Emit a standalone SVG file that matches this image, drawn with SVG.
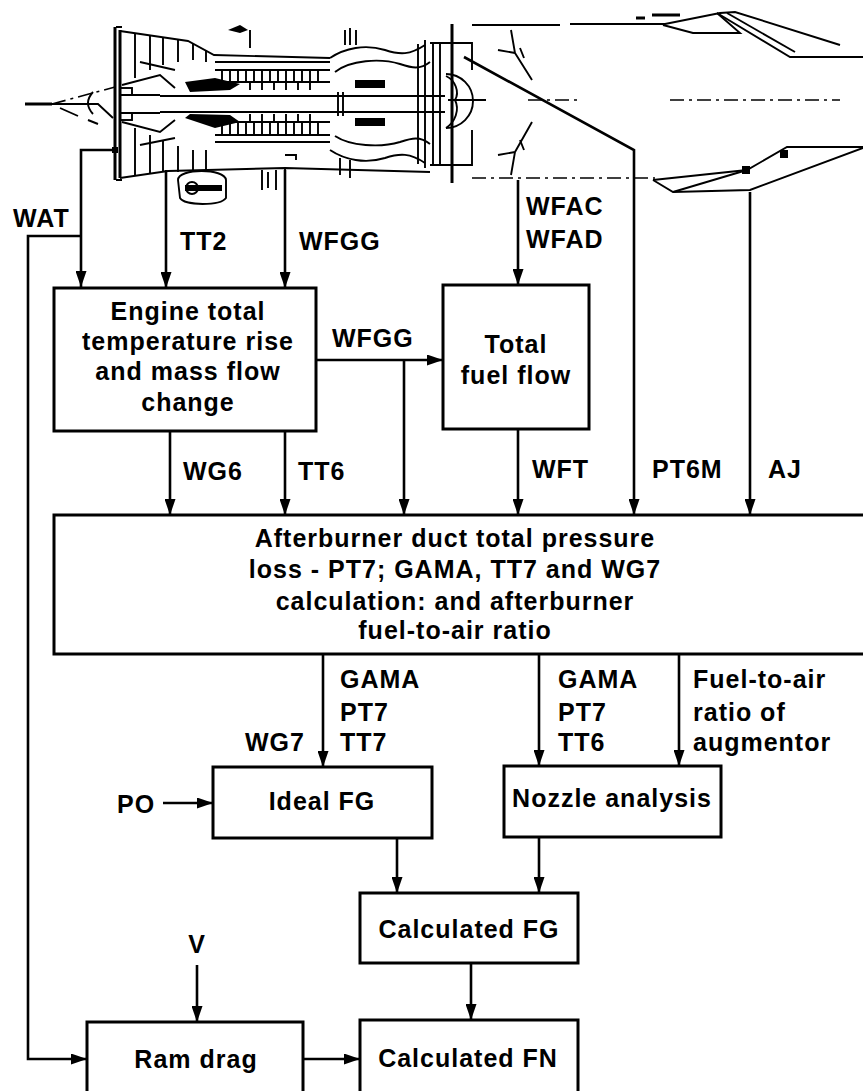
<svg xmlns="http://www.w3.org/2000/svg" width="863" height="1091" viewBox="0 0 863 1091">
<style>
.box{fill:#fff;stroke:#000;stroke-width:3}
.c{fill:none;stroke:#000;stroke-width:2.6}
.t{font-family:"Liberation Sans",Arial,sans-serif;font-weight:bold;font-size:25px;letter-spacing:1px;fill:#000}
.m{text-anchor:middle}
.e{fill:none;stroke:#000;stroke-width:1.9}
.ek{fill:none;stroke:#000;stroke-width:3}
.ed{fill:none;stroke:#000;stroke-width:1.6;stroke-dasharray:14 5 3 5}
.ef{fill:#000;stroke:none}
</style>
<defs>
<marker id="ah" viewBox="0 0 16 11" refX="16" refY="5.5" markerWidth="16" markerHeight="11" markerUnits="userSpaceOnUse" orient="auto">
<path d="M0,0 L16,5.5 L0,11 z" fill="#000"/>
</marker>
</defs>
<rect width="863" height="1091" fill="#fff"/>

<g id="engine">
<!-- probe / spike -->
<path class="ek" d="M25,104 H52" stroke-width="4"/>
<path class="e" d="M52,104 H98 L113,118"/>
<path class="ed" d="M52,104 L115,87"/>
<path class="e" d="M60,108 L78,116 M88,120 L98,124"/>
<path class="e" d="M93,92 Q83,103 93,114" stroke-width="2.4"/>
<!-- front frame -->
<path class="ek" d="M115,27 V180 M120,30 V178"/>
<path class="e" d="M116,27 H122 M116,180 H122"/>
<path class="ef" d="M112,147 H118 V153 H112 z"/>
<!-- fan casing -->
<path class="e" d="M120,31 L188,41 L214,55 L330,58"/>
<path class="e" d="M120,178 L168,171 L285,168 L430,172"/>
<!-- fan stages -->
<path class="e" d="M135,34 V78 M150,36 V70 M163,38 V65 M178,40 V62 M193,44 V60 M206,50 V62"/>
<path class="e" d="M135,128 V176 M150,135 V173 M163,140 V172 M178,146 V172 M193,150 V170 M206,150 V170"/>
<path class="e" d="M122,85 L160,75 L175,88 M122,122 L160,132 L175,120"/>
<path class="e" d="M140,62 L175,70 M140,145 L175,138"/>
<!-- inlet hub -->
<path class="e" d="M120,95 L160,95 M120,113 L160,113"/>
<rect class="e" x="120" y="88" width="12" height="7"/>
<rect class="e" x="120" y="113" width="12" height="7"/>
<!-- compressor -->
<path class="e" d="M215,62 H330 M215,70 H330 M215,82 H330 M215,122 H330 M215,135 H330 M215,142 H330"/>
<path class="e" d="M222,70 V82 M230,70 V82 M238,70 V82 M246,70 V82 M254,70 V82 M262,70 V82 M270,70 V82 M278,70 V82 M286,70 V82 M294,70 V82 M302,70 V82 M310,70 V82 M318,70 V82"/>
<path class="e" d="M222,122 V135 M230,122 V135 M238,122 V135 M246,122 V135 M254,122 V135 M262,122 V135 M270,122 V135 M278,122 V135 M286,122 V135 M294,122 V135 M302,122 V135 M310,122 V135 M318,122 V135"/>
<path class="e" d="M250,82 V90 M262,82 V90 M274,82 V90 M286,82 V90 M298,82 V90 M310,82 V90 M250,114 V122 M262,114 V122 M274,114 V122 M286,114 V122 M298,114 V122 M310,114 V122"/>
<path class="ef" d="M185,82 L215,78 L240,84 L230,90 L190,92 z M185,118 L215,128 L240,122 L230,115 L190,114 z"/>
<!-- shaft -->
<path class="e" d="M160,96 H445 M160,112 H445"/>
<path class="e" d="M338,92 V116 M343,92 V116"/>
<!-- combustor -->
<path class="e" d="M330,58 C345,48 365,44 385,50 C400,55 410,55 425,45"/>
<path class="e" d="M335,72 C350,60 380,58 400,64 C412,68 420,70 430,62"/>
<path class="e" d="M330,150 C345,160 365,164 385,158 C400,153 410,153 425,163"/>
<path class="e" d="M335,136 C350,146 380,148 400,142 C412,138 420,136 430,144"/>
<path class="ef" d="M355,80 H385 V88 H355 z M355,118 H385 V126 H355 z"/>
<path class="e" d="M345,30 V45 M350,28 V45 M356,30 V45 M250,30 V48"/>
<path class="ef" d="M228,30 L240,25 L248,30 L240,33 z"/>
<path class="e" d="M340,158 V175 M350,160 V178"/>
<!-- turbine -->
<path class="e" d="M430,43 H472 V70 M430,165 H472 V130"/>
<path class="e" d="M418,44 V164 M425,40 V168 M433,42 V166 M440,42 V166"/>
<path class="ek" d="M452,24 V183" stroke-width="2.6"/>
<path class="e" d="M446,76 C455,80 460,92 455,100 C460,110 455,122 446,128"/>
<path class="e" d="M446,74 A26,26 0 0 1 446,128"/>
<path class="e" d="M448,100 H486"/>
<!-- gearbox -->
<path class="e" d="M178,180 C178,168 225,168 226,180 L226,198 C220,206 185,206 180,198 z"/>
<path class="ef" d="M185,185 H222 V191 H185 z"/>
<circle class="e" cx="192" cy="188" r="6"/>
<path class="e" d="M262,170 V190 M268,172 V188 M276,170 V190 M285,168 V185"/>
<path class="e" d="M285,155 H296 V160"/>
<!-- afterburner duct -->
<path class="e" d="M472,25 H560 M570,24 H640"/>
<path class="ed" d="M472,178 H655"/>
<!-- flameholders -->
<path class="e" d="M511,30 L515,53 L498,50 M515,53 L532,80"/>
<path class="e" d="M511,175 L515,152 L498,155 M515,152 L532,122"/>
<path class="e" d="M520,48 L524,58 M520,140 L524,150"/>
<path class="ed" d="M528,100 H580"/>
<path class="ed" d="M670,100 H840"/>
<!-- nozzle top -->
<path class="e" d="M600,24 H665 L720,13 L735,12 L840,45"/>
<path class="ek" d="M636,18 H645 M652,15 H680" stroke-width="4"/>
<path class="e" d="M663,25 L693,33 L740,33 L717,13"/>
<path class="e" d="M717,13 L790,57 H863" stroke-width="2.4"/>
<path class="e" d="M727,13 L795,52"/>
<!-- nozzle bottom -->
<path class="e" d="M653,180 L673,192 L750,190 L863,148"/>
<path class="e" d="M653,180 L747,170 L787,147 H863" stroke-width="2.2"/>
<path class="e" d="M673,192 L747,170"/>
<path class="ef" d="M742,166 H750 V174 H742 z M780,150 H788 V158 H780 z"/>
</g>

<g id="connectors" class="c">
<path d="M112,150 H81 V287" marker-end="url(#ah)"/>
<path d="M81,236 H28 V1059 H87" marker-end="url(#ah)"/>
<path d="M166,170 V288" marker-end="url(#ah)"/>
<path d="M285,170 V288" marker-end="url(#ah)"/>
<path d="M316,360 H443" marker-end="url(#ah)"/>
<path d="M404,360 V515" marker-end="url(#ah)"/>
<path d="M518,180 V285" marker-end="url(#ah)"/>
<path d="M464,57 L634,150 V515" marker-end="url(#ah)"/>
<path d="M750,192 V515" marker-end="url(#ah)"/>
<path d="M170,431 V515" marker-end="url(#ah)"/>
<path d="M285,431 V515" marker-end="url(#ah)"/>
<path d="M518,429 V515" marker-end="url(#ah)"/>
<path d="M323,654 V767" marker-end="url(#ah)"/>
<path d="M539,654 V766" marker-end="url(#ah)"/>
<path d="M679,654 V766" marker-end="url(#ah)"/>
<path d="M163,803 H213" marker-end="url(#ah)"/>
<path d="M397,838 V893" marker-end="url(#ah)"/>
<path d="M539,837 V893" marker-end="url(#ah)"/>
<path d="M471,963 V1020" marker-end="url(#ah)"/>
<path d="M197,965 V1022" marker-end="url(#ah)"/>
<path d="M303,1059 H360" marker-end="url(#ah)"/>
</g>

<g id="labels" class="t">
<text x="13" y="227">WAT</text>
<text x="180" y="250">TT2</text>
<text x="299" y="250">WFGG</text>
<text x="526" y="215">WFAC</text>
<text x="526" y="248">WFAD</text>
<text x="332" y="347">WFGG</text>
<text x="183" y="480">WG6</text>
<text x="298" y="480">TT6</text>
<text x="532" y="478">WFT</text>
<text x="652" y="478">PT6M</text>
<text x="768" y="478">AJ</text>
<text x="340" y="688">GAMA</text>
<text x="340" y="721">PT7</text>
<text x="340" y="751">TT7</text>
<text x="245" y="751">WG7</text>
<text x="558" y="688">GAMA</text>
<text x="558" y="721">PT7</text>
<text x="558" y="751">TT6</text>
<text x="693" y="688">Fuel-to-air</text>
<text x="693" y="721">ratio of</text>
<text x="693" y="751">augmentor</text>
<text x="117" y="813">PO</text>
<text x="197" y="953" class="m">V</text>
</g>

<g id="n-engine">
<rect class="box" x="54" y="288" width="262" height="143"/>
<text class="t m" x="188" y="320">Engine total</text>
<text class="t m" x="188" y="350">temperature rise</text>
<text class="t m" x="188" y="380">and mass flow</text>
<text class="t m" x="188" y="411">change</text>
</g>
<g id="n-fuel">
<rect class="box" x="443" y="285" width="146" height="144"/>
<text class="t m" x="516" y="353">Total</text>
<text class="t m" x="516" y="384">fuel flow</text>
</g>
<g id="n-afterburner">
<rect class="box" x="54" y="515" width="830" height="139"/>
<text class="t m" x="455" y="547">Afterburner duct total pressure</text>
<text class="t m" x="455" y="578">loss - PT7; GAMA, TT7 and WG7</text>
<text class="t m" x="455" y="610">calculation: and afterburner</text>
<text class="t m" x="455" y="639">fuel-to-air ratio</text>
</g>
<g id="n-idealfg">
<rect class="box" x="213" y="767" width="219" height="71"/>
<text class="t m" x="322" y="810">Ideal FG</text>
</g>
<g id="n-nozzle">
<rect class="box" x="504" y="766" width="217" height="71"/>
<text class="t m" x="612" y="807">Nozzle analysis</text>
</g>
<g id="n-calcfg">
<rect class="box" x="360" y="893" width="218" height="70"/>
<text class="t m" x="469" y="938">Calculated FG</text>
</g>
<g id="n-ramdrag">
<rect class="box" x="87" y="1022" width="216" height="90"/>
<text class="t m" x="196" y="1068">Ram drag</text>
</g>
<g id="n-calcfn">
<rect class="box" x="360" y="1020" width="218" height="90"/>
<text class="t m" x="468" y="1067">Calculated FN</text>
</g>
</svg>
